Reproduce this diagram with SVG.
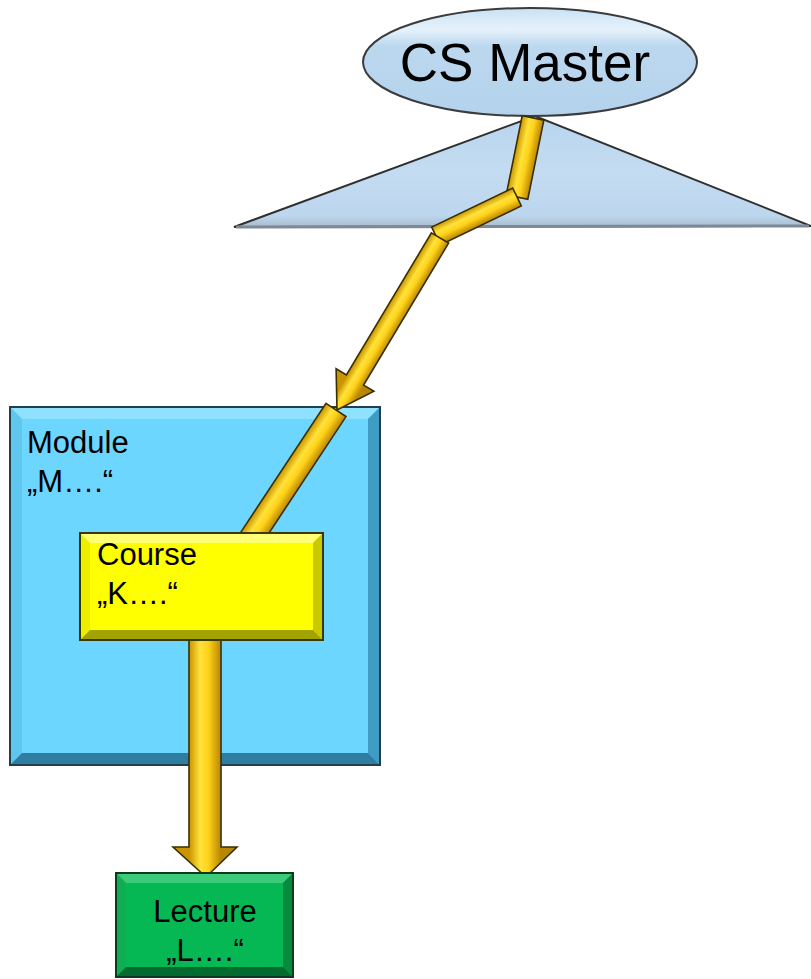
<svg xmlns="http://www.w3.org/2000/svg" xmlns:xlink="http://www.w3.org/1999/xlink" width="811" height="979" viewBox="0 0 811 979">
<style>
.lbl{font-family:"Liberation Sans",Arial,sans-serif;fill:#000}
.shaft{stroke:#3a2e00;stroke-width:1.6;stroke-linejoin:miter}
.edge{fill:none;stroke-width:2}
</style>
<defs>
<linearGradient id="gold" x1="0" y1="0" x2="1" y2="0">
<stop offset="0" stop-color="#c99400"/>
<stop offset="0.35" stop-color="#ffe23a"/>
<stop offset="0.6" stop-color="#ffd21a"/>
<stop offset="1" stop-color="#b98600"/>
</linearGradient>
<linearGradient id="gS1" href="#gold" xlink:href="#gold" gradientUnits="userSpaceOnUse" x1="522.2" y1="115.8" x2="543.8" y2="120.2"/>
<linearGradient id="gS2" href="#gold" xlink:href="#gold" gradientUnits="userSpaceOnUse" x1="512.7" y1="188" x2="521.3" y2="206"/>
<linearGradient id="gS3" href="#gold" xlink:href="#gold" gradientUnits="userSpaceOnUse" x1="431.4" y1="232.9" x2="448.6" y2="243.1"/>
<linearGradient id="gS4" href="#gold" xlink:href="#gold" gradientUnits="userSpaceOnUse" x1="326" y1="403.4" x2="346" y2="416.6"/>
<linearGradient id="gV" href="#gold" xlink:href="#gold" gradientUnits="userSpaceOnUse" x1="189" y1="0" x2="221" y2="0"/>
<linearGradient id="ellG" x1="0" y1="0" x2="0" y2="1">
<stop offset="0" stop-color="#c9e1f4"/>
<stop offset="0.2" stop-color="#e6f2fb"/>
<stop offset="0.35" stop-color="#bcd8ef"/>
<stop offset="1" stop-color="#b4d2ec"/>
</linearGradient>
<linearGradient id="triG" x1="0" y1="0" x2="0" y2="1">
<stop offset="0" stop-color="#b7d4ed"/>
<stop offset="0.5" stop-color="#c4dcf1"/>
<stop offset="0.9" stop-color="#bcd6ee"/>
<stop offset="1" stop-color="#a9bccb"/>
</linearGradient>
</defs>

<g id="hierarchy-triangle">
<polygon points="234,227 535,116 811,226" fill="url(#triG)" stroke="#2f2f2f" stroke-width="2"/>
<line x1="236" y1="227" x2="809" y2="226" stroke="#7d8a96" stroke-width="3"/>
</g>

<g id="cs-master">
<ellipse cx="530" cy="62" rx="167" ry="54" fill="url(#ellG)" stroke="#3b3b3b" stroke-width="2"/>
<text class="lbl" x="525" y="81" font-size="53" text-anchor="middle">CS Master</text>
</g>

<g id="module">
<rect x="10" y="407" width="370" height="358" fill="#6dd6fe"/>
<polygon points="10,407 380,407 368,419 22,419" fill="#8ee2ff"/>
<polygon points="10,407 22,419 22,753 10,765" fill="#5fc7ee"/>
<polygon points="380,407 380,765 368,753 368,419" fill="#3f9cc4"/>
<polygon points="10,765 380,765 368,753 22,753" fill="#2f7da0"/>
<rect x="10" y="407" width="370" height="358" class="edge" stroke="#233f4c"/>
<text class="lbl" x="27" y="453" font-size="31">Module</text>
<text class="lbl" x="27" y="492" font-size="31">„M….“</text>
</g>

<g id="connectors">
<polygon class="shaft" fill="url(#gS4)" points="326,403.4 346,416.6 260,546.6 240,533.4"/>
<polygon class="shaft" fill="url(#gS1)" points="522.2,115.8 543.8,120.2 527.8,199.2 506.2,194.8"/>
<polygon class="shaft" fill="url(#gS2)" points="512.7,188 521.3,206 440.3,245 431.7,227"/>
<polygon class="shaft" fill="url(#gS3)" points="431.4,232.9 448.6,243.1 363.6,385.1 373.9,391.3 337,410 336.1,368.7 346.4,374.9"/>
<polygon class="shaft" fill="url(#gV)" points="189,640 221,640 221,847 237,847 206,877 173,847 189,847"/>
</g>

<g id="course">
<rect x="80" y="533" width="243" height="107" fill="#ffff00"/>
<polygon points="80,533 323,533 313,543 90,543" fill="#ffff73"/>
<polygon points="80,533 90,543 90,630 80,640" fill="#eeee00"/>
<polygon points="323,533 323,640 313,630 313,543" fill="#c9c900"/>
<polygon points="80,640 323,640 313,630 90,630" fill="#a3a300"/>
<rect x="80" y="533" width="243" height="107" class="edge" stroke="#3a3a00"/>
<text class="lbl" x="97" y="565" font-size="31">Course</text>
<text class="lbl" x="97" y="604" font-size="31">„K….“</text>
</g>

<g id="lecture">
<rect x="116" y="873" width="177" height="104" fill="#06b853"/>
<polygon points="116,873 293,873 283,883 126,883" fill="#3ccb78"/>
<polygon points="116,873 126,883 126,967 116,977" fill="#10ad55"/>
<polygon points="293,873 293,977 283,967 283,883" fill="#058a3e"/>
<polygon points="116,977 293,977 283,967 126,967" fill="#036b30"/>
<rect x="116" y="873" width="177" height="104" class="edge" stroke="#0c3a1c"/>
<text class="lbl" x="205" y="922" font-size="31" text-anchor="middle">Lecture</text>
<text class="lbl" x="205" y="961" font-size="31" text-anchor="middle">„L….“</text>
</g>
</svg>
